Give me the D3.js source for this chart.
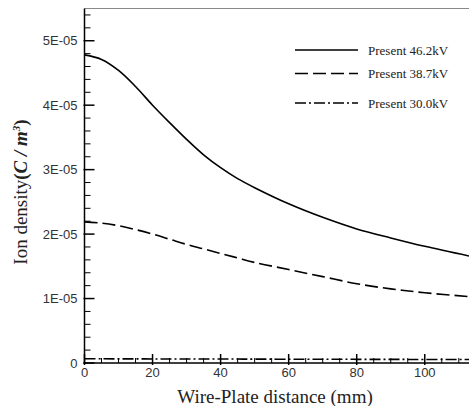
<!DOCTYPE html>
<html>
<head>
<meta charset="utf-8">
<script src="https://cdn.jsdelivr.net/npm/d3@7"></script>
<style>
  body { margin: 0; background: #fff; }
  svg { display: block; }
</style>
</head>
<body>
<script>
let width = 469;
let height = 406;

// x positions (mm)
let distance = [0, 5, 10, 15, 20, 25, 30, 35, 40, 45, 50, 60, 70, 80, 90, 100, 113];
// ion density values, in units of 1E-05 C/m3
let kv462 = [4.78, 4.71, 4.54, 4.29, 4.00, 3.73, 3.47, 3.23, 3.03, 2.86, 2.72, 2.47, 2.26, 2.08, 1.94, 1.81, 1.66];
let kv387 = [2.19, 2.17, 2.13, 2.07, 2.00, 1.92, 1.84, 1.77, 1.70, 1.63, 1.56, 1.45, 1.34, 1.23, 1.15, 1.09, 1.03];
let kv300 = [0.065, 0.065, 0.064, 0.064, 0.063, 0.063, 0.062, 0.062, 0.061, 0.061, 0.060, 0.059, 0.058, 0.057, 0.056, 0.055, 0.055];

let seriesNames = ["Present 46.2kV", "Present 38.7kV", "Present 30.0kV"];
let yTicks = [0, 1, 2, 3, 4, 5];
let yTickLabels = ["0", "1E-05", "2E-05", "3E-05", "4E-05", "5E-05"];
let xTicks = [0, 20, 40, 60, 80, 100];

let margin = { left: 84.5, top: 8.5, right: 0, bottom: 43 };

let svg = d3.select("body")
            .append("svg")
            .attr("width", width)
            .attr("height", height)
            .style("background", "#fff");

let x = d3.scaleLinear().domain([0, 113]).range([margin.left, width - margin.right]);
let y = d3.scaleLinear().domain([0, 5.5]).range([height - margin.bottom, margin.top]);

let dashes = ["none", "13,5", "11,3,2,3"];
let allSeries = [kv462, kv387, kv300];

// curves
let line = d3.line()
  .x(function(d, i) { return x(distance[i]); })
  .y(function(d) { return y(d); })
  .curve(d3.curveCatmullRom.alpha(0.5));

svg.append("g")
  .selectAll("path")
  .data(allSeries)
  .enter()
  .append("path")
  .attr("d", line)
  .attr("fill", "none")
  .attr("stroke", "#000")
  .attr("stroke-width", 1.6)
  .attr("stroke-dasharray", function(d, i) { return dashes[i]; });

// top frame line
svg.append("line")
  .attr("x1", x(0)).attr("x2", width)
  .attr("y1", y(5.5)).attr("y2", y(5.5))
  .attr("stroke", "#888")
  .attr("stroke-width", 1);

// y axis: ticks pointing inward
let yAxis = svg.append("g").attr("transform", "translate(" + x(0) + ",0)");
yAxis.append("line")
  .attr("y1", y(0) + 1).attr("y2", y(5.5))
  .attr("stroke", "#000").attr("stroke-width", 1.5);
yAxis.selectAll(".minor")
  .data(d3.range(0, 5.51, 0.2).filter(function(v) { return Math.abs(v - Math.round(v)) > 0.01; }))
  .enter().append("line")
  .attr("x1", 0).attr("x2", 6)
  .attr("y1", function(d) { return y(d); }).attr("y2", function(d) { return y(d); })
  .attr("stroke", "#000").attr("stroke-width", 1);
yAxis.selectAll(".major")
  .data(yTicks)
  .enter().append("line")
  .attr("x1", -1).attr("x2", 10)
  .attr("y1", function(d) { return y(d); }).attr("y2", function(d) { return y(d); })
  .attr("stroke", "#000").attr("stroke-width", 1.5);
yAxis.selectAll("text")
  .data(yTicks)
  .enter().append("text")
  .attr("x", -7)
  .attr("y", function(d) { return y(d) + 4.5; })
  .attr("text-anchor", "end")
  .attr("font-family", "Liberation Sans, Arial, sans-serif")
  .attr("font-size", 13)
  .attr("fill", "#333")
  .text(function(d, i) { return yTickLabels[i]; });

// x axis
let xAxis = svg.append("g").attr("transform", "translate(0," + y(0) + ")");
xAxis.append("line")
  .attr("x1", x(0) - 1).attr("x2", width)
  .attr("stroke", "#000").attr("stroke-width", 1.5);
xAxis.selectAll(".minor")
  .data(d3.range(5, 113, 5).filter(function(v) { return v % 20 !== 0; }))
  .enter().append("line")
  .attr("x1", function(d) { return x(d); }).attr("x2", function(d) { return x(d); })
  .attr("y1", 0).attr("y2", -5)
  .attr("stroke", "#000").attr("stroke-width", 1);
xAxis.selectAll(".major")
  .data(xTicks)
  .enter().append("line")
  .attr("x1", function(d) { return x(d); }).attr("x2", function(d) { return x(d); })
  .attr("y1", 2).attr("y2", -9)
  .attr("stroke", "#000").attr("stroke-width", 1.5);
xAxis.selectAll("text")
  .data(xTicks)
  .enter().append("text")
  .attr("x", function(d) { return x(d); })
  .attr("y", 14)
  .attr("text-anchor", "middle")
  .attr("font-family", "Liberation Sans, Arial, sans-serif")
  .attr("font-size", 13)
  .attr("fill", "#333")
  .text(function(d) { return d; });

// axis titles
svg.append("text")
  .attr("x", 275)
  .attr("y", 402.5)
  .attr("text-anchor", "middle")
  .attr("font-family", "Liberation Serif, Times New Roman, serif")
  .attr("font-size", 19)
  .attr("fill", "#222")
  .text("Wire-Plate distance (mm)");

let yTitle = svg.append("text")
  .attr("transform", "translate(27,192) rotate(-90)")
  .attr("text-anchor", "middle")
  .attr("font-family", "Liberation Serif, Times New Roman, serif")
  .attr("font-size", 19)
  .attr("fill", "#222");
yTitle.append("tspan").text("Ion density");
yTitle.append("tspan").attr("font-weight", "bold").text("(");
yTitle.append("tspan").attr("font-weight", "bold").attr("font-style", "italic").text("C / m");
yTitle.append("tspan").attr("font-weight", "bold").attr("font-style", "italic")
  .attr("font-size", 11).attr("dy", -7).text("3");
yTitle.append("tspan").attr("font-weight", "bold").attr("dy", 7).text(")");

// legend
let legend = svg.append("g")
  .selectAll(".leg")
  .data(seriesNames)
  .enter().append("g")
  .attr("transform", function(d, i) { return "translate(295," + [50, 73.5, 103][i] + ")"; });
legend.append("line")
  .attr("x1", 0).attr("x2", 63)
  .attr("stroke", "#000").attr("stroke-width", 1.6)
  .attr("stroke-dasharray", function(d, i) { return dashes[i]; });
legend.append("text")
  .attr("x", 73)
  .attr("y", 4.5)
  .attr("font-family", "Liberation Serif, Times New Roman, serif")
  .attr("font-size", 13)
  .attr("fill", "#222")
  .text(function(d) { return d; });
</script>
</body>
</html>
